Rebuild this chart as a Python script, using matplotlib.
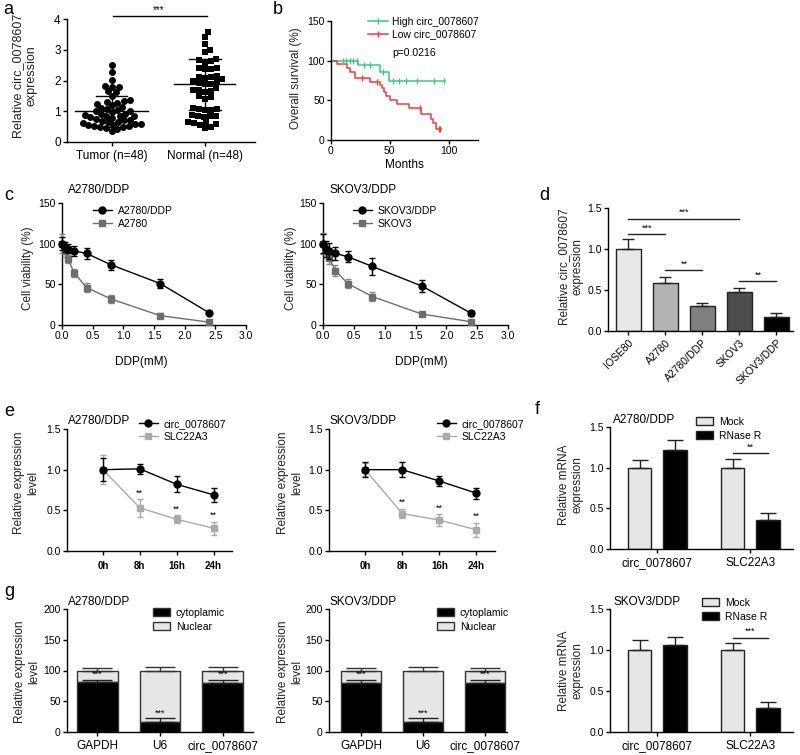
import numpy as np
import matplotlib
matplotlib.use('Agg')
import matplotlib.pyplot as plt
from matplotlib.patches import Patch
from matplotlib.lines import Line2D

plt.rcParams['font.family'] = ['Liberation Sans', 'DejaVu Sans']
plt.rcParams['axes.linewidth'] = 1.0
plt.rcParams['xtick.major.width'] = 1.0
plt.rcParams['ytick.major.width'] = 1.0
plt.rcParams['xtick.major.size'] = 3
plt.rcParams['ytick.major.size'] = 3

# ---------------- data ----------------
# panel a
a_groups = ['Tumor (n=48)', 'Normal (n=48)']
tumor_vals = [2.52, 2.27, 2.02, 1.82, 1.80, 1.78, 1.65, 1.62, 1.50, 1.36, 1.34, 1.30,
              1.28, 1.25, 1.20, 1.15, 1.10, 1.08, 1.05, 1.02, 1.00, 0.97, 0.92, 0.90,
              0.87, 0.86, 0.85, 0.84, 0.80, 0.77, 0.75, 0.72, 0.70, 0.68, 0.66, 0.64,
              0.62, 0.60, 0.58, 0.56, 0.55, 0.53, 0.52, 0.50, 0.48, 0.45, 0.42, 0.37]
normal_vals = [3.57, 3.40, 3.20, 3.00, 2.93, 2.70, 2.66, 2.62, 2.58, 2.42, 2.40, 2.38,
               2.36, 2.15, 2.12, 2.10, 2.08, 2.05, 1.98, 1.95, 1.92, 1.90, 1.88, 1.75,
               1.70, 1.68, 1.65, 1.62, 1.48, 1.45, 1.40, 1.12, 1.08, 1.06, 1.05, 1.04,
               0.88, 0.86, 0.85, 0.84, 0.82, 0.66, 0.64, 0.62, 0.60, 0.55, 0.50, 0.45]
a_means = [1.0, 1.87]
a_sds = [0.5, 0.82]

# panel b (Kaplan-Meier)
high_t = [0, 23, 42, 49, 97]
high_s = [100, 94.5, 86, 74.8, 74.8]
high_cens = [10, 13, 16, 19, 22, 28, 33, 44, 53, 58, 64, 73, 88, 96]
low_t = [0, 5, 14, 16, 20, 33, 42, 43.5, 45, 46.5, 50, 56, 66, 76.5, 85, 87, 89.5, 93.5]
low_s = [100, 95.5, 91, 86, 77.7, 73.5, 69, 65, 60, 55, 50.4, 45, 40, 32.8, 26, 21, 13.4, 13.4]
low_cens = [26, 39, 76, 92, 93]

# panel c
c_dose = [0, 0.05, 0.1, 0.2, 0.4, 0.8, 1.6, 2.4]
c1_res = [100, 96, 94, 91, 88, 74, 51, 15]
c1_res_err = [8, 6, 5, 6, 7, 6, 6, 2]
c1_par = [100, 91, 81, 64, 46, 32, 11.5, 3.5]
c1_par_err = [12, 7, 5, 5, 6, 5, 3, 2]
c2_res = [100, 93, 91, 88, 84, 72, 48, 14.5]
c2_res_err = [12, 10, 10, 8, 7, 10, 7, 3]
c2_par = [100, 91, 82, 67, 51, 35, 13.5, 4]
c2_par_err = [13, 8, 7, 7, 6, 5, 3, 2]

# panel d
d_cells = ['IOSE80', 'A2780', 'A2780/DDP', 'SKOV3', 'SKOV3/DDP']
d_vals = [1.0, 0.59, 0.31, 0.47, 0.17]
d_err = [0.12, 0.07, 0.03, 0.06, 0.05]
d_colors = ['#e8e8e8', '#b4b4b4', '#808080', '#4d4d4d', '#000000']

# panel e
e_time = [0, 8, 16, 24]
e_labels = ['0h', '8h', '16h', '24h']
e1_circ = [1.0, 1.01, 0.82, 0.69]
e1_circ_err = [0.14, 0.06, 0.10, 0.09]
e1_slc = [1.0, 0.53, 0.39, 0.28]
e1_slc_err = [0.18, 0.11, 0.05, 0.08]
e2_circ = [1.0, 1.0, 0.86, 0.71]
e2_circ_err = [0.09, 0.09, 0.06, 0.07]
e2_slc = [1.0, 0.46, 0.38, 0.26]
e2_slc_err = [0.08, 0.06, 0.07, 0.09]

# panel f
f_genes = ['circ_0078607', 'SLC22A3']
f1_mock = [1.0, 1.0]
f1_mock_err = [0.09, 0.11]
f1_rnase = [1.22, 0.36]
f1_rnase_err = [0.12, 0.08]
f2_mock = [1.0, 1.0]
f2_mock_err = [0.12, 0.09]
f2_rnase = [1.06, 0.29]
f2_rnase_err = [0.10, 0.08]

# panel g
g_genes = ['GAPDH', 'U6', 'circ_0078607']
g1_cyto = [81, 17, 80]
g1_cyto_err = [4, 6, 5]
g1_nuc_err = [4, 6, 5]
g2_cyto = [80, 17, 80]
g2_cyto_err = [5, 5, 5]
g2_nuc_err = [4, 5, 4]
g_total = [100, 100, 100]

# ---------------- figure ----------------
W, H = 800, 755
fig = plt.figure(figsize=(W / 100, H / 100), dpi=100)


def fx(x):
    return x / W


def fy(y):
    return 1 - y / H


def ax_px(l, t, r, b):
    return fig.add_axes([l / W, 1 - b / H, (r - l) / W, (b - t) / H])


def style(ax, ls=7.5):
    for s in ['top', 'right']:
        ax.spines[s].set_visible(False)
    ax.tick_params(direction='out', labelsize=ls, pad=1.5)


def ftext(x, y, s, **kw):
    fig.text(fx(x), fy(y), s, **kw)


def ylab(x, y, s, size=8.5):
    fig.text(fx(x), fy(y), s, rotation=90, ha='center', va='center',
             fontsize=size, multialignment='center', color='#222222')


def letter(x, y, s):
    fig.text(fx(x), fy(y), s, fontsize=13, ha='left', va='center')


def beeswarm(vals, sx, sy, d):
    """x offsets (data units) so markers of diameter d px don't overlap."""
    order = np.argsort(vals)
    placed = []
    offs = np.zeros(len(vals))
    for i in order:
        yi = vals[i] * sy
        cands = [0.0]
        for (xj, yj) in placed:
            dy = yi - yj
            if abs(dy) < d:
                dx = np.sqrt(d * d - dy * dy)
                cands += [xj + dx, xj - dx]
        cands = sorted(cands, key=abs)
        for c in cands:
            ok = True
            for (xj, yj) in placed:
                if (c - xj) ** 2 + (yi - yj) ** 2 < d * d - 1e-6:
                    ok = False
                    break
            if ok:
                break
        placed.append((c, yi))
        offs[i] = c / sx
    return offs


# ---------------- panel a ----------------
ax = ax_px(67, 19, 255, 142)
style(ax, 8.5)
sx, sy = 93.0, 123 / 4.0
for gi, (vals, mk) in enumerate([(tumor_vals, 'o'), (normal_vals, 's')]):
    v = np.array(vals)
    offs = beeswarm(v, sx, sy, 6.0)
    ax.plot(gi + offs, v, mk, color='black', ms=5.0, mew=0, linestyle='none', clip_on=False)
    m, s = a_means[gi], a_sds[gi]
    hw = 0.39 if gi == 0 else 0.33
    ax.plot([gi - hw, gi + hw], [m, m], color='black', lw=1)
    ax.plot([gi - 0.17, gi + 0.17], [m + s, m + s], color='black', lw=1)
    ax.plot([gi - 0.17, gi + 0.17], [m - s, m - s], color='black', lw=1)
    ax.plot([gi, gi], [m - s, m + s], color='black', lw=1)
ax.set_xlim(-0.48, 1.54)
ax.set_ylim(0, 4)
ax.set_yticks([0, 1, 2, 3, 4])
ax.set_xticks([0, 1])
ax.set_xticklabels(a_groups)
ax.tick_params(axis='x', pad=3)
ax.plot([0.01, 1.02], [4.1, 4.1], color='black', lw=1, clip_on=False)
ax.text(0.51, 4.13, '***', ha='center', va='bottom', fontsize=7)
ylab(25, 76, 'Relative circ_0078607\nexpression', 9)
letter(3, 10, 'a')

# ---------------- panel b ----------------
ax = ax_px(331, 21, 478, 140)
style(ax, 7.5)
green = '#3cc68a'
red = '#f03c3c'
ax.step(high_t, high_s, where='post', color=green, lw=1.1)
ax.step(low_t, low_s, where='post', color=red, lw=1.1)


def surv_at(ts, ss, t):
    v = ss[0]
    for ti, si in zip(ts, ss):
        if t >= ti:
            v = si
    return v


ax.plot(high_cens, [surv_at(high_t, high_s, t) for t in high_cens], '|', color=green, ms=4, mew=1)
ax.plot(low_cens, [surv_at(low_t, low_s, t) for t in low_cens], '|', color=red, ms=4, mew=1)
ax.set_xlim(0, 125)
ax.set_ylim(0, 150)
ax.set_xticks([0, 50, 100])
ax.set_yticks([0, 50, 100, 150])
ax.set_xlabel('Months', fontsize=8.5, labelpad=2)
ylab(296, 78, 'Overall survival (%)', 8.5)
hb = [Line2D([], [], color=green, lw=1.1, marker='|', ms=4),
      Line2D([], [], color=red, lw=1.1, marker='|', ms=4)]
ax.legend(hb, ['High circ_0078607', 'Low circ_0078607'], loc='upper left',
          bbox_to_anchor=(fx(368), fy(17)), bbox_transform=fig.transFigure,
          frameon=False, fontsize=7.5, handlelength=1.9, handletextpad=0.4,
          borderpad=0, borderaxespad=0, labelspacing=0.25)
ftext(392, 53, 'p=0.0216', fontsize=7.5, va='center')
letter(273, 10, 'b')

# ---------------- panel c ----------------
for (l, r, res, rese, par, pare, title, labs, legx, xlc) in [
        (62, 246, c1_res, c1_res_err, c1_par, c1_par_err, 'A2780/DDP',
         ['A2780/DDP', 'A2780'], 93, 0.43),
        (323, 508, c2_res, c2_res_err, c2_par, c2_par_err, 'SKOV3/DDP',
         ['SKOV3/DDP', 'SKOV3'], 353, 0.53)]:
    ax = ax_px(l, 203, r, 325)
    style(ax, 7.5)
    ax.errorbar(c_dose, par, yerr=pare, color='#6e6e6e', ecolor='#8a8a8a', marker='s',
                ms=5, lw=1, elinewidth=1, capsize=2.5, capthick=1, clip_on=False, zorder=3)
    ax.errorbar(c_dose, res, yerr=rese, color='black', marker='o', ms=5, lw=1,
                elinewidth=1, capsize=2.5, capthick=1, clip_on=False, zorder=4)
    ax.set_xlim(0, 3.0)
    ax.set_ylim(0, 150)
    ax.set_xticks([0, 0.5, 1.0, 1.5, 2.0, 2.5, 3.0])
    ax.set_xticklabels(['0.0', '0.5', '1.0', '1.5', '2.0', '2.5', '3.0'])
    ax.set_yticks([0, 50, 100, 150])
    ax.set_xlabel('DDP(mM)', fontsize=8.5, labelpad=14)
    ax.xaxis.set_label_coords(xlc, -0.25)
    hc = [Line2D([], [], color='black', marker='o', ms=5, lw=1),
          Line2D([], [], color='#6e6e6e', marker='s', ms=5, lw=1)]
    ax.legend(hc, labs, loc='upper left', bbox_to_anchor=(fx(legx), fy(206)),
              bbox_transform=fig.transFigure, frameon=False, fontsize=7.5,
              handlelength=1.8, handletextpad=0.6, borderpad=0, borderaxespad=0,
              labelspacing=0.3)
    ftext(l + 6, 190, title, fontsize=8.5, va='center')
ylab(28, 268, 'Cell viability (%)', 8.5)
ylab(291, 268, 'Cell viability (%)', 8.5)
letter(4, 195, 'c')

# ---------------- panel d ----------------
ax = ax_px(608, 208, 793, 331)
style(ax, 7.5)
xd = np.arange(len(d_cells))
ax.bar(xd, d_vals, width=0.66, color=d_colors, edgecolor='#222222', linewidth=1,
       yerr=[np.zeros(len(d_err)), d_err], error_kw=dict(ecolor='#222222', elinewidth=1,
                                                          capsize=4, capthick=1))
ax.set_xlim(-0.55, 4.45)
ax.set_ylim(0, 1.5)
ax.set_yticks([0, 0.5, 1.0, 1.5])
ax.set_yticklabels(['0.0', '0.5', '1.0', '1.5'])
ax.set_xticks(xd)
ax.set_xticklabels(d_cells, rotation=45, ha='right', rotation_mode='anchor')
ax.tick_params(axis='x', pad=2)
for (x0, x1, yy, st) in [(0, 3, 1.37, '***'), (0, 1, 1.18, '***'),
                         (1, 2, 0.74, '**'), (3, 4, 0.61, '**')]:
    ax.plot([x0, x1], [yy, yy], color='#222222', lw=1, clip_on=False)
    ax.text((x0 + x1) / 2, yy + 0.02, st, ha='center', va='bottom', fontsize=6.5)
ylab(571, 267, 'Relative circ_0078607\nexpression', 8.5)
letter(539, 195, 'd')

# ---------------- panel e ----------------
for (l, r, circ, circe, slc, slce, title, legx) in [
        (67, 232, e1_circ, e1_circ_err, e1_slc, e1_slc_err, 'A2780/DDP', 139),
        (329, 495, e2_circ, e2_circ_err, e2_slc, e2_slc_err, 'SKOV3/DDP', 437)]:
    ax = ax_px(l, 429, r, 551)
    style(ax, 7.5)
    ax.errorbar(e_time, slc, yerr=slce, color='#aaaaaa', marker='s', ms=5, lw=1,
                elinewidth=1, capsize=2.5, capthick=1, zorder=3)
    ax.errorbar(e_time, circ, yerr=circe, color='black', marker='o', ms=5, lw=1,
                elinewidth=1, capsize=2.5, capthick=1, zorder=4)
    for t, v, e in zip(e_time[1:], slc[1:], slce[1:]):
        ax.text(t, v + e + 0.02, '**', ha='center', va='bottom', fontsize=6.5)
    ax.set_xlim(-7.8, 28)
    ax.set_ylim(0, 1.5)
    ax.set_yticks([0, 0.5, 1.0, 1.5])
    ax.set_yticklabels(['0.0', '0.5', '1.0', '1.5'])
    ax.set_xticks(e_time)
    ax.set_xticklabels(e_labels, fontsize=7, fontweight='bold')
    ax.tick_params(axis='x', pad=4)
    he = [Line2D([], [], color='black', marker='o', ms=5, lw=1),
          Line2D([], [], color='#aaaaaa', marker='s', ms=5, lw=1)]
    ax.legend(he, ['circ_0078607', 'SLC22A3'], loc='upper left',
              bbox_to_anchor=(fx(legx), fy(419)), bbox_transform=fig.transFigure,
              frameon=False, fontsize=7.5, handlelength=1.8, handletextpad=0.6,
              borderpad=0, borderaxespad=0, labelspacing=0.3)
    ftext(l + 1, 421, title, fontsize=8.5, va='center')
ylab(26, 483, 'Relative expression\nlevel', 8.5)
ylab(290, 483, 'Relative expression\nlevel', 8.5)
letter(4, 412, 'e')

# ---------------- panel f ----------------
mock_c = '#e6e6e6'
for (t, b, mock, mocke, rn, rne, title, legx, legy, star, sy_) in [
        (427, 549, f1_mock, f1_mock_err, f1_rnase, f1_rnase_err, 'A2780/DDP', 696, 417, '**', 1.18),
        (609, 732, f2_mock, f2_mock_err, f2_rnase, f2_rnase_err, 'SKOV3/DDP', 702, 598, '***', 1.15)]:
    ax = ax_px(610, t, 793, b)
    style(ax, 7.5)
    xf = np.arange(len(f_genes))
    ax.bar(xf - 0.19, mock, width=0.25, color=mock_c, edgecolor='#222222', linewidth=1,
           yerr=[np.zeros(2), mocke], error_kw=dict(ecolor='#222222', elinewidth=1,
                                                   capsize=6, capthick=1))
    ax.bar(xf + 0.19, rn, width=0.25, color='black', edgecolor='#222222', linewidth=1,
           yerr=[np.zeros(2), rne], error_kw=dict(ecolor='#222222', elinewidth=1,
                                                 capsize=6, capthick=1))
    ax.plot([1 - 0.19, 1 + 0.19], [sy_, sy_], color='#222222', lw=1)
    ax.text(1, sy_ + 0.02, star, ha='center', va='bottom', fontsize=6.5)
    ax.set_xlim(-0.51, 1.46)
    ax.set_ylim(0, 1.5)
    ax.set_yticks([0, 0.5, 1.0, 1.5])
    ax.set_yticklabels(['0.0', '0.5', '1.0', '1.5'])
    ax.set_xticks(xf)
    ax.set_xticklabels(f_genes, fontsize=8.5)
    ax.tick_params(axis='x', pad=3)
    hf = [Patch(facecolor=mock_c, edgecolor='#222222', linewidth=1),
          Patch(facecolor='black', edgecolor='#222222', linewidth=1)]
    ax.legend(hf, ['Mock', 'RNase R'], loc='upper left', bbox_to_anchor=(fx(legx), fy(legy)),
              bbox_transform=fig.transFigure, frameon=False, fontsize=7.5,
              handlelength=1.6, handleheight=0.8, handletextpad=0.6, borderpad=0,
              borderaxespad=0, labelspacing=0.35)
    ftext(613, t - 7, title, fontsize=8.5, va='center')
ylab(571, 485, 'Relative mRNA\nexpression', 8.5)
ylab(571, 671, 'Relative mRNA\nexpression', 8.5)
letter(535, 410, 'f')

# ---------------- panel g ----------------
nuc_c = '#e6e6e6'
for (l, r, xl, xr, cyto, cytoe, nuce, title, legx) in [
        (67, 253, -0.48, 2.48, g1_cyto, g1_cyto_err, g1_nuc_err, 'A2780/DDP', 153),
        (329, 507, -0.52, 2.36, g2_cyto, g2_cyto_err, g2_nuc_err, 'SKOV3/DDP', 437)]:
    ax = ax_px(l, 609, r, 732)
    style(ax, 7.5)
    xg = np.arange(len(g_genes))
    nuc = [tot - c for tot, c in zip(g_total, cyto)]
    ax.bar(xg, nuc, bottom=cyto, width=0.65, color=nuc_c, edgecolor='#333333', linewidth=1,
           yerr=[np.zeros(3), nuce], error_kw=dict(ecolor='#333333', elinewidth=1,
                                                  capsize=11, capthick=1))
    ax.bar(xg, cyto, width=0.65, color='black', edgecolor='#333333', linewidth=1)
    ax.errorbar(xg, cyto, yerr=[np.zeros(3), cytoe], fmt='none', ecolor='#222222',
                elinewidth=1, capsize=11, capthick=1, zorder=3)
    for x, c, e in zip(xg, cyto, cytoe):
        ax.text(x, c + e + 1, '***', ha='center', va='bottom', fontsize=6.5,
                color='black', zorder=4)
    ax.set_xlim(xl, xr)
    ax.set_ylim(0, 200)
    ax.set_yticks([0, 50, 100, 150, 200])
    ax.set_xticks(xg)
    ax.set_xticklabels(g_genes, fontsize=8.5)
    ax.tick_params(axis='x', pad=3)
    hg = [Patch(facecolor='black', edgecolor='#333333', linewidth=1),
          Patch(facecolor=nuc_c, edgecolor='#333333', linewidth=1)]
    ax.legend(hg, ['cytoplamic', 'Nuclear'], loc='upper left', bbox_to_anchor=(fx(legx), fy(608)),
              bbox_transform=fig.transFigure, frameon=False, fontsize=7.5,
              handlelength=1.6, handleheight=0.8, handletextpad=0.6, borderpad=0,
              borderaxespad=0, labelspacing=0.35)
    ftext(l + 1, 602, title, fontsize=8.5, va='center')
ylab(27, 672, 'Relative expression\nlevel', 8.5)
ylab(290, 672, 'Relative expression\nlevel', 8.5)
letter(4, 592, 'g')

fig.savefig('out.png', dpi=100)
